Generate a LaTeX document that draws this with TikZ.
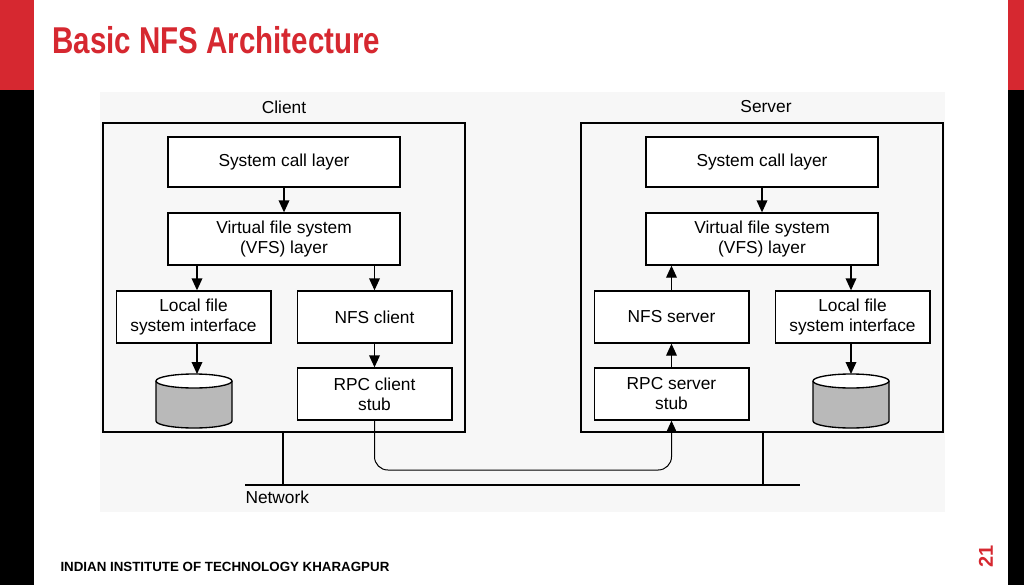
\documentclass[tikz,border=0pt]{standalone}
\usepackage{fontspec}
\setmainfont{Liberation Sans}
\usetikzlibrary{arrows.meta}
\definecolor{slidered}{RGB}{214,40,48}
\tikzset{every picture/.style={line width=0.75pt}}
\tikzset{
  layer/.style={draw,line width=1pt,fill=white,inner sep=0pt,align=center,font=\fontsize{13}{15}\selectfont},
  hostbox/.style={draw,line width=2pt},
  flow/.style={-{Triangle[length=9pt,width=8pt]},line width=1pt},
}
\newcommand{\disk}[2]{%
  \fill[gray!55] (#1-38,#2) -- (#1-38,#2+40) arc[start angle=180,end angle=0,x radius=38,y radius=7] -- (#1+38,#2) -- cycle;
  \draw[line width=1pt] (#1-38,#2) -- (#1-38,#2+40) arc[start angle=180,end angle=0,x radius=38,y radius=7] -- (#1+38,#2);
  \draw[line width=1pt,fill=white] (#1,#2) ellipse[x radius=38,y radius=7];}

\begin{document}
\begin{tikzpicture}[x=0.75pt,y=0.75pt,yscale=-1]
\useasboundingbox (0,0) rectangle (1024,585);
%slide frame
\fill[white] (0,0) rectangle (1024,585);
\fill[slidered] (0,0) rectangle (34,90);
\fill[black] (0,90) rectangle (34,585);
\fill[slidered] (1008,0) rectangle (1024,90);
\fill[black] (1008,90) rectangle (1024,585);
\node[anchor=west,text=slidered,font=\bfseries\fontsize{28}{30}\selectfont,xscale=0.79,inner sep=0pt] (title) at (52,40) {Basic NFS Architecture};
\node[anchor=west,font=\bfseries\fontsize{10}{12}\selectfont,inner sep=0pt] (footer) at (60,567) {INDIAN INSTITUTE OF TECHNOLOGY KHARAGPUR};
\node[rotate=90,text=slidered,font=\bfseries\fontsize{15}{18}\selectfont,inner sep=0pt] (pageno) at (986,556) {21};
\fill[black!3] (100,92) rectangle (945,512);

%client
\draw[hostbox] (103,123) rectangle (465,432);
\node (client) at (284,107) {\fontsize{13}{15}\selectfont Client};
\node[layer,minimum width=174pt,minimum height=37.5pt] (csys) at (284,162) {System call layer};
\node[layer,minimum width=174pt,minimum height=39pt] (cvfs) at (284,239) {Virtual file system\\(VFS) layer};
\node[layer,minimum width=116pt,minimum height=39pt] (clocal) at (193.5,317) {Local file\\system interface};
\node[layer,minimum width=116pt,minimum height=39pt] (cnfs) at (374.5,317) {NFS client};
\node[layer,minimum width=116pt,minimum height=39pt] (crpc) at (374.5,394) {RPC client\\stub};
\disk{194}{381}
\coordinate (cdisk) at (197,374);
\draw[flow] (csys) -- (cvfs);
\draw[flow] (cvfs.south -| 197,0) -- (clocal.north -| 197,0);
\draw[flow] (cvfs.south -| cnfs) -- (cnfs);
\draw[flow] (cnfs) -- (crpc);
\draw[flow] (clocal.south -| 197,0) -- (cdisk);

%server
\draw[hostbox] (581,123) rectangle (943,432);
\node (server) at (766,107) {\fontsize{13}{15}\selectfont Server};
\node[layer,minimum width=174pt,minimum height=37.5pt] (ssys) at (762,162) {System call layer};
\node[layer,minimum width=174pt,minimum height=39pt] (svfs) at (762,239) {Virtual file system\\(VFS) layer};
\node[layer,minimum width=116pt,minimum height=39pt] (snfs) at (671.5,317) {NFS server};
\node[layer,minimum width=116pt,minimum height=39pt] (slocal) at (852.5,317) {Local file\\system interface};
\node[layer,minimum width=116pt,minimum height=39pt] (srpc) at (671.5,394) {RPC server\\stub};
\disk{851}{381}
\coordinate (sdisk) at (851,374);
\draw[flow] (ssys) -- (svfs);
\draw[flow] (snfs.north) -- (svfs.south -| snfs);
\draw[flow] (srpc) -- (snfs);
\draw[flow] (svfs.south -| 851,0) -- (slocal.north -| 851,0);
\draw[flow] (slocal.south -| 851,0) -- (sdisk);

%network
\coordinate (netl) at (245,485);
\coordinate (netr) at (800,485);
\draw[line width=2pt] (netl) -- (netr);
\draw[line width=2pt] (283,432) -- (283,485);
\draw[line width=2pt] (763,432) -- (763,485);
\node[anchor=north west,inner sep=0pt] (network) at (245,490) {\fontsize{13}{15}\selectfont Network};
\draw[flow,line width=0.75pt,rounded corners=10pt] (crpc.south) -- (374.5,470) -- (671.5,470) -- (srpc.south);
\end{tikzpicture}
\end{document}
